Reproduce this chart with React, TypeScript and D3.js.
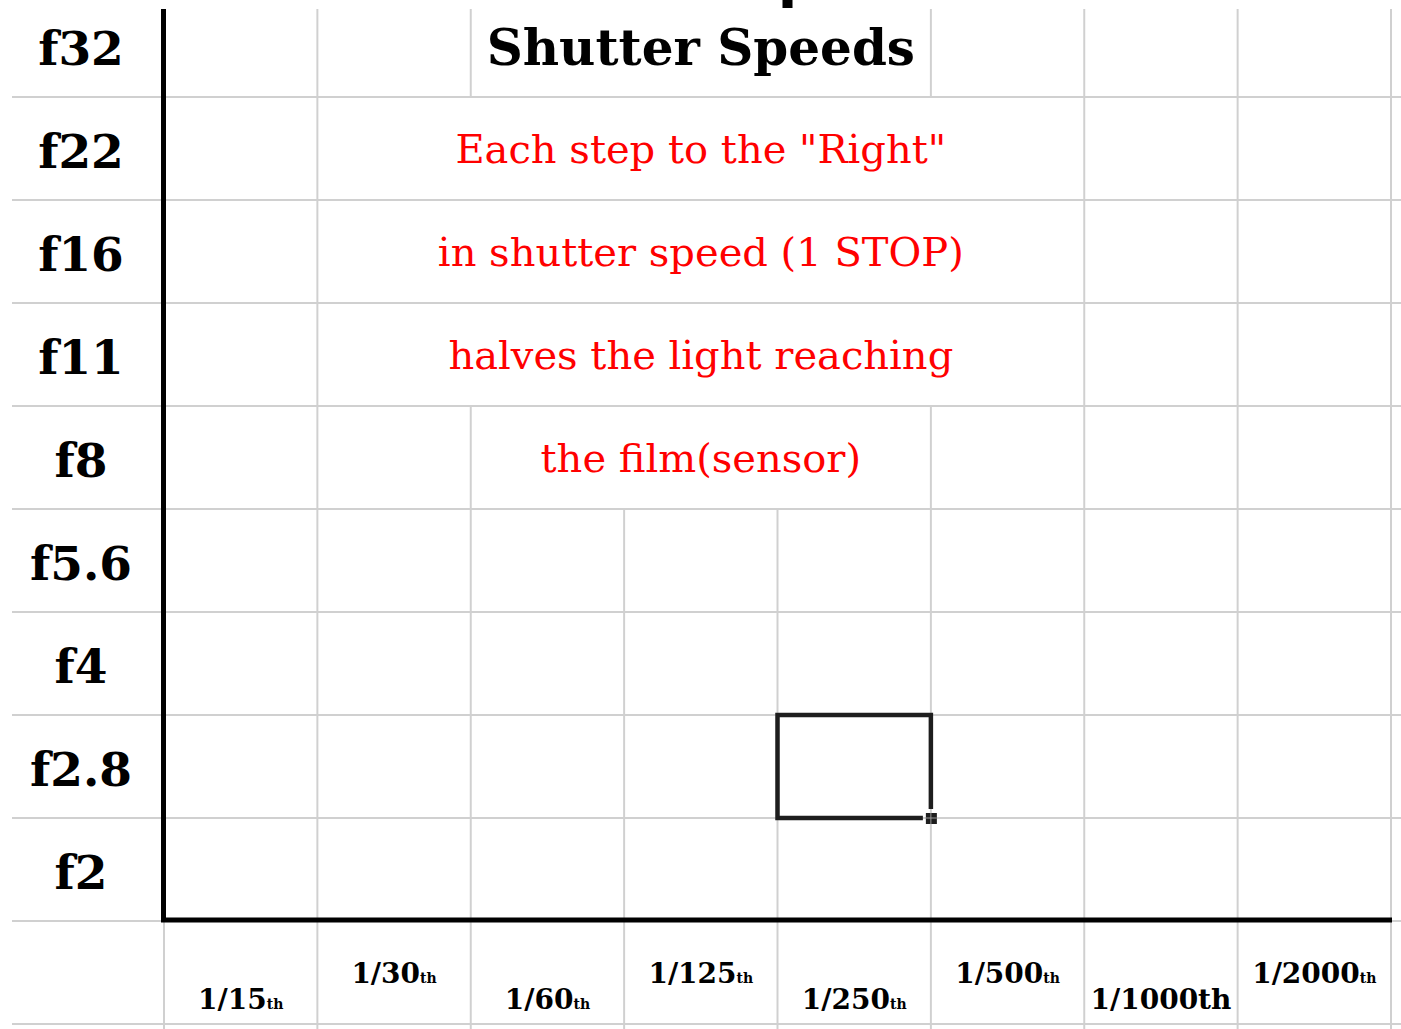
import React from "react";
import * as d3 from "d3";

// aperture rows, top to bottom
const apertures = ["f32", "f22", "f16", "f11", "f8", "f5.6", "f4", "f2.8", "f2"];
// shutter speed columns, left to right
const shutterSpeeds = ["1/15", "1/30", "1/60", "1/125", "1/250", "1/500", "1/1000", "1/2000"];
const speedSuffix = ["th", "th", "th", "th", "th", "th", "th", "th"];
const suffixIsSmall = [true, true, true, true, true, true, false, true];

const titleText = "Shutter Speeds";
const noteLines = [
  'Each step to the "Right"',
  "in shutter speed (1 STOP)",
  "halves the light reaching",
  "the film(sensor)",
];
const noteRows = ["f22", "f16", "f11", "f8"];

// merged cells (row, first column, last column)
const mergedRows = ["f32", "f22", "f16", "f11", "f8"];
const mergedFrom = ["1/60", "1/30", "1/30", "1/30", "1/60"];
const mergedTo = ["1/250", "1/500", "1/500", "1/500", "1/250"];

const selectedSpeed = "1/250";
const selectedAperture = "f2.8";

const W = 1401;
const H = 1029;

export default function App() {
  const x = d3.scaleBand().domain(shutterSpeeds).range([164, 1391]);
  const y = d3.scaleBand().domain(apertures).range([-6, 921]);
  const bw = x.bandwidth();
  const bh = y.bandwidth();
  const gridTop = 9;
  const plotBottom = y.range()[1];
  const footerBottom = plotBottom + bh;
  const gridLeft = 12;
  const labelX = 81;
  const grid = "#d0d0d0";
  const serif = "'DejaVu Serif', Georgia, serif";

  // column boundaries: left edges of each column plus the right edge
  const boundaries = shutterSpeeds.map((s) => x(s)!).concat([x.range()[1]]);

  const hidden = (row: string, k: number) => {
    const m = mergedRows.indexOf(row);
    if (m < 0) return false;
    const a = shutterSpeeds.indexOf(mergedFrom[m]);
    const b = shutterSpeeds.indexOf(mergedTo[m]);
    return k > a && k <= b;
  };

  const vSegs: { x: number; y1: number; y2: number }[] = [];
  boundaries.forEach((bx, k) => {
    if (k > 0) {
      apertures.forEach((r) => {
        if (!hidden(r, k)) {
          vSegs.push({ x: bx, y1: Math.max(gridTop, y(r)!), y2: y(r)! + bh });
        }
      });
    }
    vSegs.push({ x: bx, y1: plotBottom, y2: H });
  });

  const hLines = apertures.map((r) => y(r)! + bh).concat([footerBottom]);

  const mergedCenter = (row: string) => {
    const m = mergedRows.indexOf(row);
    return (x(mergedFrom[m])! + x(mergedTo[m])! + bw) / 2;
  };

  const sx = x(selectedSpeed)!;
  const sy = y(selectedAperture)!;

  return (
    <svg
      width={W}
      height={H}
      style={{ position: "absolute", left: 0, top: 0, background: "#fff" }}
    >
      <rect width={W} height={H} fill="#fff" />
      {hLines.map((hy, i) => (
        <line key={"h" + i} x1={gridLeft} x2={W} y1={hy} y2={hy} stroke={grid} strokeWidth={2} />
      ))}
      {vSegs.map((s, i) => (
        <line key={"v" + i} x1={s.x} x2={s.x} y1={s.y1} y2={s.y2} stroke={grid} strokeWidth={2} />
      ))}

      {/* aperture labels */}
      {apertures.map((a) => (
        <text
          key={a}
          x={labelX}
          y={y(a)! + bh / 2 + 19}
          textAnchor="middle"
          fontFamily={serif}
          fontWeight="bold"
          fontSize={47}
          fill="#000"
        >
          {a}
        </text>
      ))}

      {/* title */}
      <text
        x={mergedCenter(mergedRows[0])}
        y={y(mergedRows[0])! + bh / 2 + 19}
        textAnchor="middle"
        fontFamily={serif}
        fontWeight="bold"
        fontSize={50}
        fill="#000"
      >
        {titleText}
      </text>

      {/* red notes */}
      {noteLines.map((t, i) => (
        <text
          key={t}
          x={mergedCenter(noteRows[i])}
          y={y(noteRows[i])! + bh / 2 + 14.5}
          textAnchor="middle"
          fontFamily={serif}
          fontSize={40}
          fill="#ff0000"
        >
          {t}
        </text>
      ))}

      {/* shutter speed labels */}
      {shutterSpeeds.map((s, i) => (
        <text
          key={s}
          x={x(s)! + bw / 2}
          y={i % 2 === 0 ? plotBottom + 88 : plotBottom + 62}
          textAnchor="middle"
          fontFamily={serif}
          fontWeight="bold"
          fontSize={28}
          fill="#000"
        >
          {s}
          <tspan fontSize={suffixIsSmall[i] ? 14 : 28} fontWeight="900">
            {speedSuffix[i]}
          </tspan>
        </text>
      ))}

      {/* axes */}
      <path
        d={`M${x.range()[0] - 0.5},${gridTop} V${plotBottom - 1} H${x.range()[1] + 1}`}
        fill="none"
        stroke="#000"
        strokeWidth={5}
      />

      {/* selected cell */}
      <path
        d={`M${sx + bw},${sy + bh - 9} V${sy} H${sx} V${sy + bh} H${sx + bw - 8}`}
        fill="none"
        stroke="#1e1e1e"
        strokeWidth={4.5}
      />
      <rect x={sx + bw - 5} y={sy + bh - 5} width={11} height={11} fill="#1e1e1e" />
      <line x1={sx + bw - 5} x2={sx + bw + 6} y1={sy + bh} y2={sy + bh} stroke="#999" strokeWidth={1} />
      <line x1={sx + bw} x2={sx + bw} y1={sy + bh - 5} y2={sy + bh + 6} stroke="#999" strokeWidth={1} />

      {/* mark at top edge */}
      <rect x={sx + 5} y={0} width={10} height={8} fill="#000" />
    </svg>
  );
}
